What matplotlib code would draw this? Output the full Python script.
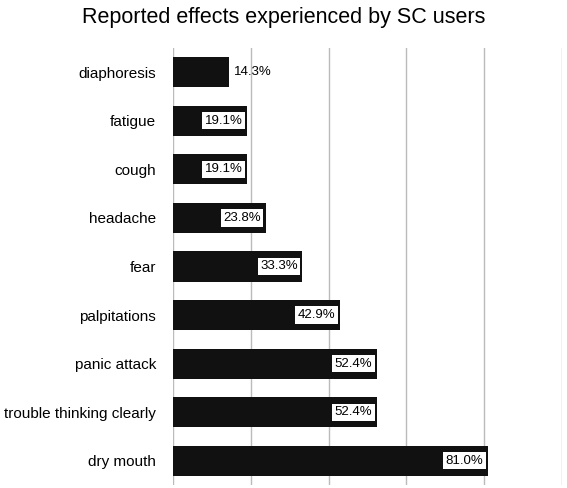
import matplotlib.pyplot as plt

plt.rcParams['font.family'] = ['Liberation Sans', 'DejaVu Sans']

effects = ["diaphoresis", "fatigue", "cough", "headache", "fear", "palpitations",
           "panic attack", "trouble thinking clearly", "dry mouth"]
percent = [14.3, 19.1, 19.1, 23.8, 33.3, 42.9, 52.4, 52.4, 81.0]

fig = plt.figure(figsize=(5.67, 4.88), dpi=100)
ax = fig.add_axes([0.305, 0.006, 0.686, 0.896])

y = list(range(len(effects)))
ax.barh(y, percent, height=0.62, color="#111111", zorder=2)
ax.set_ylim(len(effects) - 0.5, -0.5)
ax.set_xlim(0, 100)
ax.set_xticks([0, 20, 40, 60, 80, 100])
ax.set_xticklabels([])
ax.tick_params(length=0)
ax.grid(axis="x", color="#bbbbbb", linewidth=1, zorder=0)
for s in ax.spines.values():
    s.set_visible(False)
ax.set_yticks(y)
ax.set_yticklabels(effects, fontsize=11)
ax.tick_params(axis="y", pad=12)

for yi, v in zip(y, percent):
    label = f"{v:.1f}%"
    if v < 15:
        ax.text(v + 1.5, yi, label, va="center", ha="left", fontsize=9.5, zorder=3)
    else:
        ax.text(v - 1.2, yi, label, va="center", ha="right", fontsize=9.5, zorder=3,
                bbox=dict(boxstyle="square,pad=0.2", fc="white", ec="none"))

fig.suptitle("Reported effects experienced by SC users", fontsize=15.5, y=0.985)
fig.savefig("out.png", dpi=100)
